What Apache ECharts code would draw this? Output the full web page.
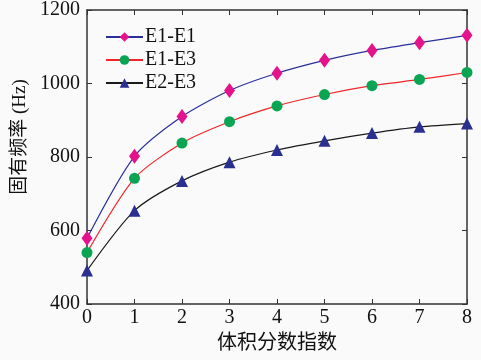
<!DOCTYPE html>
<html><head><meta charset="utf-8">
<script src="https://cdn.jsdelivr.net/npm/echarts@6/dist/echarts.min.js"></script>
<style>html,body{margin:0;padding:0;background:#fafafa}#c{width:481px;height:360px}</style>
</head><body><div id="c"></div>
<script>
const categories = [0, 1, 2, 3, 4, 5, 6, 7, 8];
const e1e1 = [579, 802, 910, 981, 1028, 1063, 1090, 1111, 1131];
const e1e3 = [540, 742, 838, 896, 939, 970, 994, 1011, 1030];
const e2e3 = [491, 654, 735, 786, 819, 844, 865, 882, 891];
const seriesNames = ['E1-E1', 'E1-E3', 'E2-E3'];
const xName = '体积分数指数';
const yName = '固有频率 (Hz)';

const serif = 'Liberation Serif';
const cjk = 'Liberation Serif, Noto Sans CJK SC';
const axisCol = '#333';

function pts(arr) { return categories.map((c, i) => [c, arr[i]]); }

const chart = echarts.init(document.getElementById('c'), null, {renderer: 'canvas'});
chart.setOption({
  backgroundColor: '#fafafa',
  animation: false,
  textStyle: {fontFamily: serif},
  grid: {left: 87, right: 14, top: 10, bottom: 56, containLabel: false},
  legend: {
    left: 100, top: 22, orient: 'vertical',
    itemWidth: 37, itemHeight: 12, itemGap: 3,
    textStyle: {fontFamily: serif, fontSize: 20, color: '#111', lineHeight: 20, padding: [0, 0, 0, -3]},
    data: seriesNames
  },
  xAxis: [{
    type: 'value', min: 0, max: 8, interval: 1,
    name: xName, nameLocation: 'middle', nameGap: 30,
    nameTextStyle: {fontFamily: cjk, fontSize: 20, color: '#111'},
    axisLine: {show: true, lineStyle: {color: axisCol, width: 1.5}},
    axisTick: {inside: true, length: 5, lineStyle: {color: axisCol}},
    axisLabel: {fontFamily: serif, fontSize: 20, color: '#111', margin: 4, formatter: v => String(v)},
    splitLine: {show: false}
  }, {
    type: 'value', min: 0, max: 8, interval: 1, position: 'top',
    axisLine: {show: true, onZero: false, lineStyle: {color: axisCol, width: 1.5}},
    axisTick: {inside: true, length: 5, lineStyle: {color: axisCol}},
    axisLabel: {show: false}, splitLine: {show: false}
  }],
  yAxis: [{
    type: 'value', min: 400, max: 1200, interval: 200,
    name: yName, nameLocation: 'middle', nameGap: 54, nameRotate: 90,
    nameTextStyle: {fontFamily: cjk, fontSize: 19, color: '#111', padding: [0, 0, 0, 40]},
    axisLine: {show: true, lineStyle: {color: axisCol, width: 1.5}},
    axisTick: {inside: true, length: 5, lineStyle: {color: axisCol}},
    axisLabel: {fontFamily: serif, fontSize: 20, color: '#111', margin: 7, formatter: v => String(v)},
    splitLine: {show: false}
  }, {
    type: 'value', min: 400, max: 1200, interval: 200, position: 'right',
    axisLine: {show: true, onZero: false, lineStyle: {color: axisCol, width: 1.5}},
    axisTick: {inside: true, length: 5, lineStyle: {color: axisCol}},
    axisLabel: {show: false}, splitLine: {show: false}
  }],
  series: [
    {name: seriesNames[0], type: 'line', data: pts(e1e1), smooth: 0.25,
     symbol: 'diamond', symbolSize: [11, 15],
     lineStyle: {color: '#2b2f9e', width: 1.2}, itemStyle: {color: '#e5138b'}},
    {name: seriesNames[1], type: 'line', data: pts(e1e3), smooth: 0.25,
     symbol: 'circle', symbolSize: 11,
     lineStyle: {color: '#f0262a', width: 1.2}, itemStyle: {color: '#0aa552'}},
    {name: seriesNames[2], type: 'line', data: pts(e2e3), smooth: 0.25,
     symbol: 'triangle', symbolSize: 12,
     lineStyle: {color: '#1a1a1a', width: 1.2}, itemStyle: {color: '#2b2f8f'}}
  ]
});
</script></body></html>
